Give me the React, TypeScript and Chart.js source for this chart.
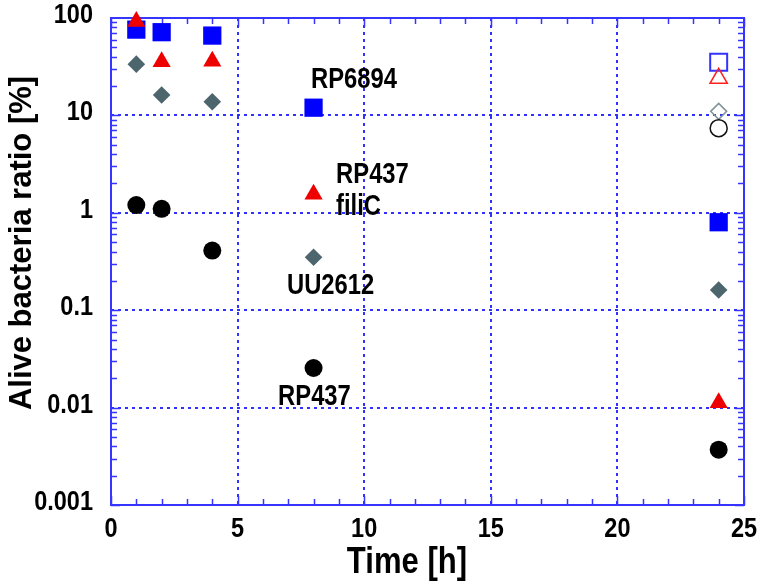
import { useEffect, useRef } from 'react';
import { Chart, registerables } from 'chart.js';
Chart.register(...registerables);

// ---- data ----
const TIMES = [1, 2, 4, 8, 24];
const RP6894 = [76, 71.5, 66, 12, 0.8];
const RP437_FILIC = [92, 35.6, 36, 1.55, 0.0112];
const UU2612 = [33.6, 16.2, 13.8, 0.35, 0.161];
const RP437 = [1.2, 1.1, 0.41, 0.0255, 0.0037];

const CTRL_TIME = [24];
const RP6894_CTRL = [35.2];
const RP437_FILIC_CTRL = [24];
const UU2612_CTRL = [11.0];
const RP437_CTRL = [7.4];

const X_TICKS = [0, 5, 10, 15, 20, 25];
const X_GRID = [5, 10, 15, 20];
const Y_TICKS = [0.001, 0.01, 0.1, 1, 10, 100];
const Y_TICK_LABELS = ['0.001', '0.01', '0.1', '1', '10', '100'];
const Y_GRID = [0.01, 0.1, 1, 10];

const ANNOT_TEXT = ['RP6894', 'RP437', 'filiC', 'UU2612', 'RP437'];
const ANNOT_X = [7.9, 8.89, 8.89, 6.95, 6.6];
const ANNOT_Y = [19.1, 2.02, 0.95, 0.147, 0.0106];

const X_TITLE = 'Time [h]';
const Y_TITLE = 'Alive bacteria ratio [%]';

const AXIS = '#3535ff';
const GRID = '#3030ff';
const FONT = "'Liberation Sans', Arial, sans-serif";

const pts = (xs: number[], ys: number[]) => ys.map((v, i) => ({ x: xs[i], y: v }));

function narrowText(ctx: CanvasRenderingContext2D, text: string, x: number, y: number, size: number, align: CanvasTextAlign, sx: number) {
  ctx.save();
  ctx.translate(x, y);
  ctx.scale(sx, 1);
  ctx.font = `bold ${size}px ${FONT}`;
  ctx.textAlign = align;
  ctx.textBaseline = 'alphabetic';
  ctx.fillText(text, 0, 0);
  ctx.restore();
}

const framePlugin = {
  id: 'frame',
  beforeDatasetsDraw(chart: any) {
    const { ctx, chartArea, scales } = chart;
    const { left, right, top, bottom } = chartArea;
    const x = scales.x, y = scales.y;
    ctx.save();
    // dotted grid
    ctx.strokeStyle = GRID;
    ctx.lineWidth = 2;
    ctx.setLineDash([3, 4]);
    for (const v of X_GRID) {
      const px = Math.round(x.getPixelForValue(v));
      ctx.beginPath(); ctx.moveTo(px, top); ctx.lineTo(px, bottom); ctx.stroke();
    }
    for (const v of Y_GRID) {
      const py = Math.round(y.getPixelForValue(v));
      ctx.beginPath(); ctx.moveTo(left, py); ctx.lineTo(right, py); ctx.stroke();
    }
    ctx.setLineDash([]);
    // inward ticks
    ctx.strokeStyle = AXIS;
    ctx.lineWidth = 1.5;
    for (let t = 0; t <= 25; t++) {
      const len = t % 5 === 0 ? 9 : 6;
      const px = Math.round(x.getPixelForValue(t)) + 0.5;
      ctx.beginPath();
      ctx.moveTo(px, bottom); ctx.lineTo(px, bottom - len);
      ctx.moveTo(px, top); ctx.lineTo(px, top + len);
      ctx.stroke();
    }
    for (let d = -3; d <= 1; d++) {
      for (let m = 1; m <= 9; m++) {
        const v = m * Math.pow(10, d);
        const len = m === 1 ? 9 : 6;
        const py = Math.round(y.getPixelForValue(v)) + 0.5;
        ctx.beginPath();
        ctx.moveTo(left, py); ctx.lineTo(left + len, py);
        ctx.moveTo(right, py); ctx.lineTo(right - len, py);
        ctx.stroke();
      }
    }
    // frame
    ctx.lineWidth = 2;
    ctx.strokeRect(left, top, right - left, bottom - top);
    ctx.restore();
  },
  afterDraw(chart: any) {
    const { ctx, chartArea, scales } = chart;
    const { left, bottom } = chartArea;
    const x = scales.x, y = scales.y;
    ctx.save();
    ctx.fillStyle = '#000';
    // y tick labels
    Y_TICKS.forEach((v, i) => {
      narrowText(ctx, Y_TICK_LABELS[i], left - 18, y.getPixelForValue(v) + 5, 28, 'right', 0.84);
    });
    // x tick labels
    X_TICKS.forEach((v) => {
      narrowText(ctx, String(v), x.getPixelForValue(v), bottom + 32, 28, 'center', 0.84);
    });
    // x title
    narrowText(ctx, X_TITLE, 407, 573, 37, 'center', 0.84);
    // y title
    ctx.save();
    ctx.translate(31, 243);
    ctx.rotate(-Math.PI / 2);
    ctx.font = `bold 31px ${FONT}`;
    ctx.textAlign = 'center';
    ctx.textBaseline = 'alphabetic';
    ctx.fillText(Y_TITLE, 0, 0);
    ctx.restore();
    // annotations
    ANNOT_TEXT.forEach((t, i) => {
      narrowText(ctx, t, x.getPixelForValue(ANNOT_X[i]), y.getPixelForValue(ANNOT_Y[i]), 29, 'left', 0.82);
    });
    ctx.restore();
  },
};

export default function App() {
  const ref = useRef<HTMLCanvasElement>(null);
  useEffect(() => {
    if (!ref.current) return;
    const common = { showLine: false, clip: false as any };
    const chart = new Chart(ref.current, {
      type: 'scatter',
      data: {
        datasets: [
          { ...common, order: 8, data: pts(TIMES, RP6894), pointStyle: 'rect', pointRadius: 12.9, backgroundColor: '#0000ff', borderColor: '#0000ff', borderWidth: 0 },
          { ...common, order: 7, data: pts(CTRL_TIME, RP6894_CTRL), pointStyle: 'rect', pointRadius: 12, backgroundColor: 'rgba(0,0,0,0)', borderColor: '#3333ff', borderWidth: 2 },
          { ...common, order: 6, data: pts(TIMES, RP437_FILIC), pointStyle: 'triangle', pointRadius: 10.5, backgroundColor: '#ee0000', borderColor: '#ee0000', borderWidth: 0 },
          { ...common, order: 5, data: pts(CTRL_TIME, RP437_FILIC_CTRL), pointStyle: 'triangle', pointRadius: 10, backgroundColor: 'rgba(0,0,0,0)', borderColor: '#ff2020', borderWidth: 1.5 },
          { ...common, order: 4, data: pts(TIMES, UU2612), pointStyle: 'rectRot', pointRadius: 8.8, backgroundColor: '#4d666e', borderColor: '#4d666e', borderWidth: 0 },
          { ...common, order: 3, data: pts(CTRL_TIME, UU2612_CTRL), pointStyle: 'rectRot', pointRadius: 8, backgroundColor: 'rgba(0,0,0,0)', borderColor: '#7f9499', borderWidth: 1.5 },
          { ...common, order: 2, data: pts(TIMES, RP437), pointStyle: 'circle', pointRadius: 9, backgroundColor: '#000000', borderColor: '#000000', borderWidth: 0 },
          { ...common, order: 1, data: pts(CTRL_TIME, RP437_CTRL), pointStyle: 'circle', pointRadius: 8.5, backgroundColor: 'rgba(0,0,0,0)', borderColor: '#111111', borderWidth: 1.5 },
        ],
      },
      options: {
        animation: false,
        responsive: false,
        events: [],
        layout: { padding: { left: 111, right: 16, top: 18, bottom: 81 } },
        plugins: { legend: { display: false }, tooltip: { enabled: false } },
        scales: {
          x: { type: 'linear', min: 0, max: 25, display: false },
          y: { type: 'logarithmic', min: 0.001, max: 100, display: false },
        },
      },
      plugins: [framePlugin],
    });
    return () => chart.destroy();
  }, []);
  return (
    <div style={{ position: 'absolute', left: 0, top: 0, width: 760, height: 586, background: '#fff' }}>
      <canvas ref={ref} width={760} height={586} style={{ display: 'block' }} />
    </div>
  );
}
